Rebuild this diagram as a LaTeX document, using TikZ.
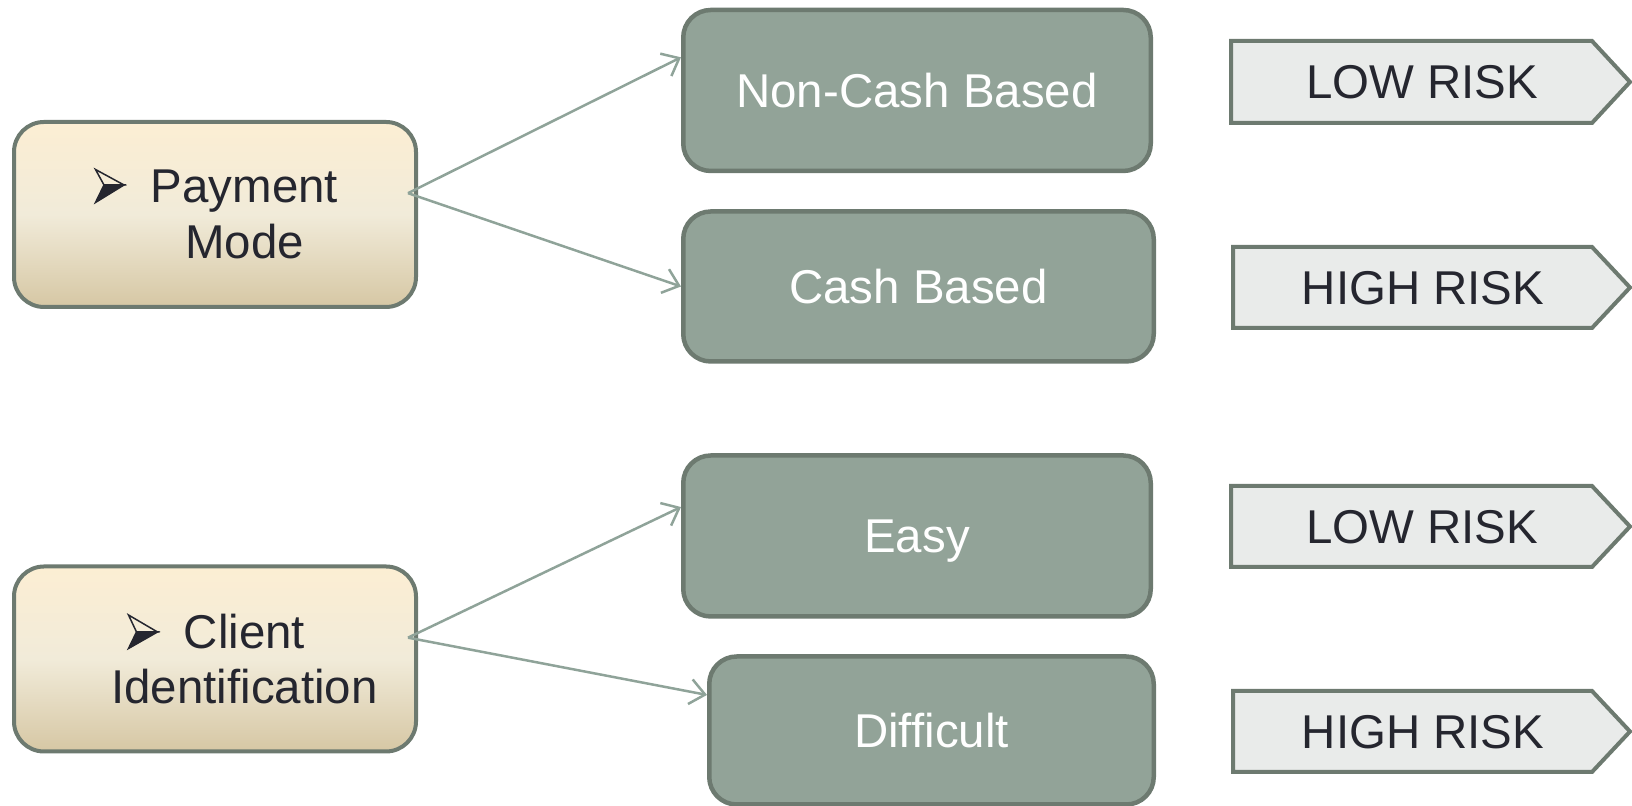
\documentclass[tikz,border=0pt]{standalone}
\usepackage{fontspec}
\setmainfont{Liberation Sans}
\usetikzlibrary{arrows.meta, positioning}
\definecolor{edgegray}{HTML}{6D7A70}
\definecolor{sage}{HTML}{92A398}
\definecolor{linkgreen}{HTML}{8FA399}
\definecolor{creamtop}{HTML}{FCEED3}
\definecolor{creammid}{HTML}{F1EBD9}
\definecolor{creambot}{HTML}{D6C7A4}
\definecolor{paper}{HTML}{E9EBEA}
\definecolor{inkdark}{HTML}{25262F}

\begin{document}
\begin{tikzpicture}[
  cond/.style={draw=edgegray, line width=0.08cm, rounded corners=0.6cm,
    top color=creamtop, bottom color=creambot, middle color=creammid,
    minimum width=8.04cm, minimum height=3.7cm, align=center, text=inkdark,
    font=\fontsize{27}{31.5}\selectfont},
  opt/.style={draw=edgegray, line width=0.09cm, rounded corners=0.55cm, fill=sage,
    text=white, text height=19pt, text depth=0pt, font=\fontsize{27}{31.5}\selectfont},
  flag/.style={draw=edgegray, line width=0.08cm, fill=paper},
  risk/.style={text=inkdark, text height=19pt, text depth=0pt,
    font=\fontsize{27}{31.5}\selectfont},
  tipline/.style={draw=inkdark, line width=0.03cm, line join=miter},
  link/.style={draw=linkgreen, line width=0.05cm,
    -{Straight Barb[length=0.3cm, width=0.5cm]}}
]
\useasboundingbox (0,0) rectangle (32.64,16.12);

\node[cond] (pay) at (4.30,11.83) {\hspace*{1.18cm}Payment\\\hspace*{1.18cm}Mode};
\node[cond] (client) at (4.30,2.94) {\hspace*{1.18cm}Client\\\hspace*{1.18cm}Identification};

\draw[tipline] (1.91,12.73) -- (2.48,12.42) -- (2.08,12.42) -- cycle;
\filldraw[tipline, fill=inkdark] (2.08,12.42) -- (2.48,12.42) -- (1.91,12.07) -- cycle;
\draw[tipline] (2.57,3.82) -- (3.15,3.48) -- (2.73,3.48) -- cycle;
\filldraw[tipline, fill=inkdark] (2.73,3.48) -- (3.15,3.48) -- (2.57,3.15) -- cycle;

\node[opt, minimum width=9.35cm, minimum height=3.22cm] (noncash) at (18.34,14.31) {Non-Cash Based};
\node[opt, minimum width=9.41cm, minimum height=3.0cm] (cash) at (18.37,10.39) {Cash Based};
\node[opt, minimum width=9.35cm, minimum height=3.22cm] (easy) at (18.34,5.40) {Easy};
\node[opt, minimum width=8.89cm, minimum height=2.96cm] (hard) at (18.63,1.51) {Difficult};

\draw[flag] (24.62,13.66) -- (24.62,15.30) -- (31.84,15.30) -- (32.60,14.48) -- (31.84,13.66) -- cycle;
\draw[flag] (24.66,9.56) -- (24.66,11.18) -- (31.84,11.18) -- (32.60,10.37) -- (31.84,9.56) -- cycle;
\draw[flag] (24.62,4.78) -- (24.62,6.40) -- (31.84,6.40) -- (32.60,5.59) -- (31.84,4.78) -- cycle;
\draw[flag] (24.66,0.68) -- (24.66,2.30) -- (31.84,2.30) -- (32.60,1.49) -- (31.84,0.68) -- cycle;
\node[risk] (low1) at (28.44,14.48) {LOW RISK};
\node[risk] (high1) at (28.46,10.37) {HIGH RISK};
\node[risk] (low2) at (28.44,5.59) {LOW RISK};
\node[risk] (high2) at (28.46,1.49) {HIGH RISK};

\draw[link] ([xshift=-0.2cm]pay.6) -- (noncash.172);
\draw[link] ([xshift=-0.2cm]pay.6) -- (cash.west);
\draw[link] ([xshift=-0.2cm]client.6) -- (easy.173);
\draw[link] ([xshift=-0.2cm]client.6) -- (hard.171);
\end{tikzpicture}
\end{document}
